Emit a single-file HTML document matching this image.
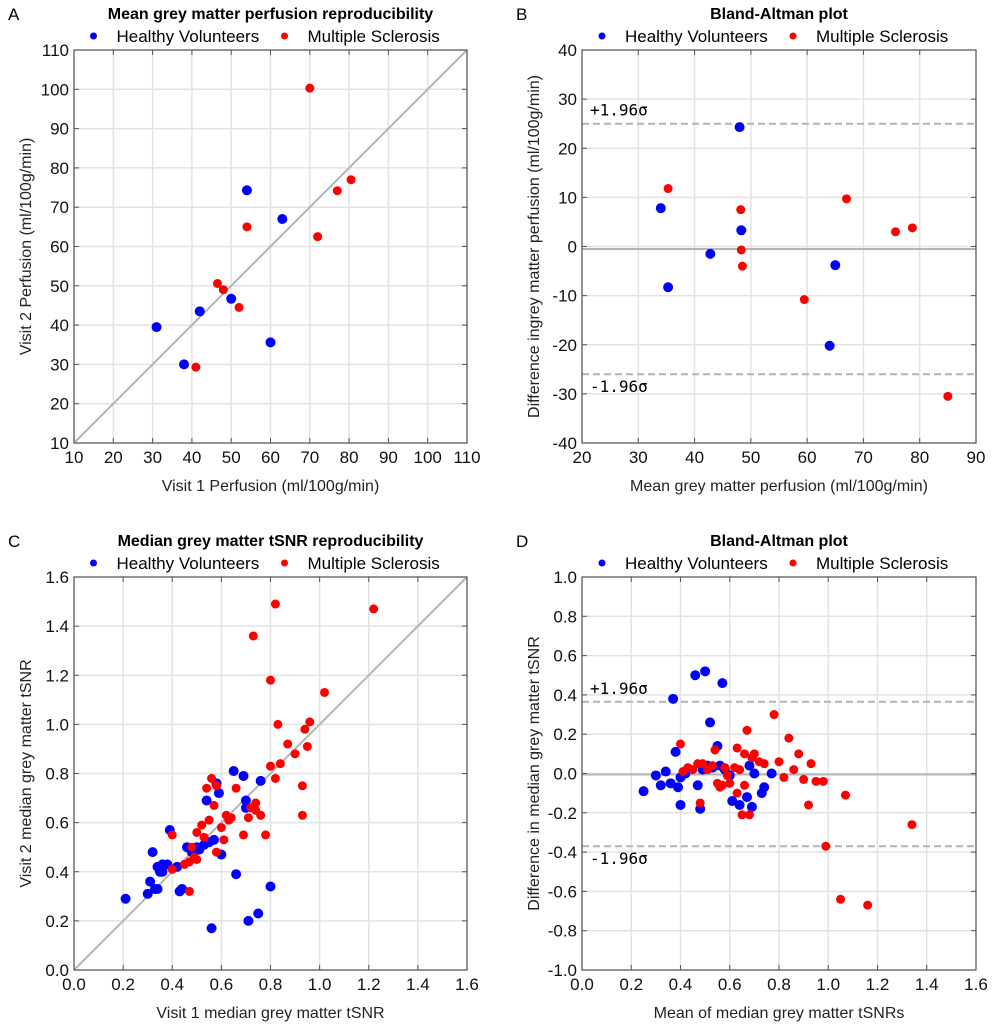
<!DOCTYPE html>
<html><head><meta charset="utf-8">
<style>
body{margin:0;background:#fff;}
svg{display:block;font-family:"Liberation Sans",sans-serif;}
</style></head>
<body>
<svg id="fig" width="1000" height="1030" viewBox="0 0 1000 1030" xmlns="http://www.w3.org/2000/svg"></svg>
<script>
// Panel A data
const aHvX=[31,38,42,50,54,60,63];
const aHvY=[39.5,30,43.5,46.7,74.3,35.6,67];
const aMsX=[41,46.5,48,52,54,70,72,77,80.5];
const aMsY=[29.3,50.6,49,44.5,65,100.3,62.5,74.2,77];
const aTicks=[10,20,30,40,50,60,70,80,90,100,110];
// Panel B data
const bHvX=[34,35.3,42.8,48,48.3,64,65];
const bHvY=[7.8,-8.3,-1.5,24.3,3.3,-20.2,-3.8];
const bMsX=[35.3,48.2,48.3,48.5,59.5,67,75.7,78.7,85];
const bMsY=[11.8,7.5,-0.7,-4,-10.8,9.7,3,3.8,-30.5];
const bXTicks=[20,30,40,50,60,70,80,90];
const bYTicks=[-40,-30,-20,-10,0,10,20,30,40];
const bLines=[25,-0.5,-26];
// Panel C data
const cHvX=[0.21,0.30,0.31,0.32,0.33,0.34,0.34,0.35,0.36,0.36,0.38,0.39,0.42,0.43,0.44,0.46,0.48,0.50,0.51,0.53,0.54,0.55,0.56,0.57,0.58,0.59,0.60,0.65,0.66,0.69,0.70,0.70,0.71,0.75,0.76,0.80];
const cHvY=[0.29,0.31,0.36,0.48,0.33,0.33,0.42,0.40,0.40,0.43,0.43,0.57,0.42,0.32,0.33,0.50,0.48,0.50,0.49,0.51,0.69,0.52,0.17,0.53,0.76,0.72,0.47,0.81,0.39,0.79,0.66,0.69,0.20,0.23,0.77,0.34];
const cMsX=[0.40,0.40,0.45,0.47,0.47,0.48,0.49,0.50,0.50,0.52,0.53,0.54,0.55,0.56,0.57,0.58,0.58,0.60,0.61,0.62,0.63,0.64,0.66,0.69,0.71,0.72,0.73,0.74,0.74,0.76,0.78,0.80,0.80,0.82,0.82,0.83,0.84,0.87,0.90,0.93,0.93,0.94,0.95,0.96,1.02,1.22];
const cMsY=[0.55,0.41,0.43,0.44,0.32,0.50,0.46,0.45,0.56,0.59,0.54,0.74,0.61,0.78,0.67,0.75,0.48,0.58,0.53,0.63,0.61,0.62,0.74,0.55,0.62,0.66,1.36,0.65,0.68,0.63,0.55,0.83,1.18,0.78,1.49,1.00,0.84,0.92,0.88,0.75,0.63,0.98,0.91,1.01,1.13,1.47];
const cTicks=[0,0.2,0.4,0.6,0.8,1.0,1.2,1.4,1.6];
// Panel D data
const dHvX=[0.25,0.30,0.32,0.34,0.36,0.37,0.38,0.39,0.40,0.40,0.42,0.46,0.47,0.48,0.49,0.50,0.51,0.52,0.53,0.55,0.56,0.57,0.58,0.60,0.61,0.64,0.67,0.68,0.69,0.70,0.73,0.74,0.77];
const dHvY=[-0.09,-0.01,-0.06,0.01,-0.05,0.38,0.11,-0.07,-0.16,-0.02,0.00,0.50,-0.06,-0.18,0.02,0.52,0.04,0.26,0.03,0.14,0.04,0.46,0.02,-0.01,-0.14,-0.16,-0.12,0.04,-0.17,0.00,-0.10,-0.07,0.00];
const dMsX=[0.40,0.41,0.43,0.45,0.47,0.48,0.49,0.51,0.53,0.54,0.55,0.56,0.57,0.58,0.59,0.60,0.62,0.63,0.63,0.64,0.65,0.66,0.66,0.67,0.68,0.69,0.70,0.72,0.74,0.78,0.80,0.82,0.84,0.86,0.88,0.90,0.92,0.93,0.95,0.98,0.99,1.05,1.07,1.16,1.34];
const dMsY=[0.15,0.01,0.03,0.02,0.05,-0.15,0.05,0.02,0.04,0.12,-0.05,-0.07,-0.06,0.03,-0.01,-0.05,0.03,0.13,-0.10,0.02,-0.21,0.10,-0.06,0.22,-0.21,0.08,0.10,0.06,0.05,0.30,0.06,-0.02,0.18,0.02,0.10,-0.03,-0.16,0.05,-0.04,-0.04,-0.37,-0.64,-0.11,-0.67,-0.26];
const dXTicks=[0,0.2,0.4,0.6,0.8,1.0,1.2,1.4,1.6];
const dYTicks=[-1.0,-0.8,-0.6,-0.4,-0.2,0,0.2,0.4,0.6,0.8,1.0];
const dLines=[0.365,-0.005,-0.37];

const NS="http://www.w3.org/2000/svg";
const svg=document.getElementById('fig');
function mk(tag,attrs,parent,text){const e=document.createElementNS(NS,tag);for(const k in attrs)e.setAttribute(k,attrs[k]);if(text!==undefined)e.textContent=text;(parent||svg).appendChild(e);return e;}

function panel(o){
  const g=mk('g',{});
  
  
  const sx=v=>o.x0+(v-o.xmin)/(o.xmax-o.xmin)*(o.x1-o.x0);
  const sy=v=>o.y1-(v-o.ymin)/(o.ymax-o.ymin)*(o.y1-o.y0);
  o.xt.forEach(t=>{const l=mk('line',{x1:sx(t),x2:sx(t),y1:o.y0,y2:o.y1,stroke:'#e3e3e3','stroke-width':1.5},g);});
  o.yt.forEach(t=>{const l=mk('line',{x1:o.x0,x2:o.x1,y1:sy(t),y2:sy(t),stroke:'#e3e3e3','stroke-width':1.5},g);});
  if(o.diag){const l=mk('line',{x1:sx(o.xmin),y1:sy(o.ymin),x2:sx(o.xmax),y2:sy(o.ymax),stroke:'#b4b4b4','stroke-width':2},g);}
  if(o.lines){
    o.lines.forEach((v,i)=>{const l=mk('line',{x1:o.x0,x2:o.x1,y1:sy(v),y2:sy(v),stroke:'#b4b4b4','stroke-width':2,'stroke-dasharray':i===1?'':'7,4'},g);});
    const t1=mk('text',{x:o.x0+8,y:sy(o.lines[0])-8,'font-size':16,'font-family':'DejaVu Sans Mono, monospace'},g,'+1.96σ');
    
    const t2=mk('text',{x:o.x0+8,y:sy(o.lines[2])+18,'font-size':16,'font-family':'DejaVu Sans Mono, monospace'},g,'-1.96σ');
    
  }
  const draw=(xs,ys,col,r,nm)=>xs.forEach((v,i)=>{const c=mk('circle',{cx:sx(v),cy:sy(ys[i]),r:r,fill:col},g);});
  draw(o.hx,o.hy,'#0000ff',o.rb,'healthy-point');
  draw(o.mx,o.my,'#ff0000',o.rr,'ms-point');
  const b=mk('rect',{x:o.x0,y:o.y0,width:o.x1-o.x0,height:o.y1-o.y0,fill:'none',stroke:'#555','stroke-width':1.2},g);
  
  o.xt.forEach(t=>{mk('line',{x1:sx(t),x2:sx(t),y1:o.y1,y2:o.y1-5,stroke:'#555'},g);mk('line',{x1:sx(t),x2:sx(t),y1:o.y0,y2:o.y0+5,stroke:'#555'},g);
    const tx=mk('text',{x:sx(t),y:o.y1+20,'font-size':17,'text-anchor':'middle',fill:'#111'},g,o.fx(t));});
  o.yt.forEach(t=>{mk('line',{x1:o.x0,x2:o.x0+5,y1:sy(t),y2:sy(t),stroke:'#555'},g);mk('line',{x1:o.x1,x2:o.x1-5,y1:sy(t),y2:sy(t),stroke:'#555'},g);
    const tx=mk('text',{x:o.x0-5,y:sy(t)+6,'font-size':17,'text-anchor':'end',fill:'#111'},g,o.fy(t));});
  const cx=(o.x0+o.x1)/2;
  const xl=mk('text',{x:cx,y:o.y1+48,'font-size':16,'text-anchor':'middle',fill:'#222'},g,o.xlab);
  const yl=mk('text',{x:0,y:0,'font-size':16,'text-anchor':'middle',fill:'#222',transform:`translate(${o.x0-43},${(o.y0+o.y1)/2}) rotate(-90)`},g,o.ylab);
  const ti=mk('text',{x:cx,y:o.y0-31,'font-size':16,'font-weight':'bold','text-anchor':'middle'},g,o.title);
  const pl=mk('text',{x:o.x0-66,y:o.y0-30,'font-size':17},g,o.letter);
  const lg=mk('g',{},g);
  const ly=o.y0-8;
  mk('circle',{cx:cx-177,cy:ly-6,r:3.5,fill:'#0000ff'},lg);
  const l1=mk('text',{x:cx-154,y:ly,'font-size':17},lg,'Healthy Volunteers');
  mk('circle',{cx:cx+14,cy:ly-6,r:3.5,fill:'#ff0000'},lg);
  const l2=mk('text',{x:cx+37,y:ly,'font-size':17},lg,'Multiple Sclerosis');
}
const f0=t=>String(t), f1=t=>t.toFixed(1);
panel({name:'panel-a',letter:'A',title:'Mean grey matter perfusion reproducibility',x0:74,x1:467,y0:50,y1:443,xmin:10,xmax:110,ymin:10,ymax:110,xt:aTicks,yt:aTicks,fx:f0,fy:f0,hx:aHvX,hy:aHvY,mx:aMsX,my:aMsY,rb:5,rr:4.5,diag:true,xlab:'Visit 1 Perfusion (ml/100g/min)',ylab:'Visit 2 Perfusion (ml/100g/min)'});
panel({name:'panel-b',letter:'B',title:'Bland-Altman plot',x0:582,x1:976,y0:50,y1:443,xmin:20,xmax:90,ymin:-40,ymax:40,xt:bXTicks,yt:bYTicks,fx:f0,fy:f0,hx:bHvX,hy:bHvY,mx:bMsX,my:bMsY,rb:5,rr:4.5,lines:bLines,xlab:'Mean grey matter perfusion (ml/100g/min)',ylab:'Difference ingrey matter perfusion (ml/100g/min)'});
panel({name:'panel-c',letter:'C',title:'Median grey matter tSNR reproducibility',x0:74,x1:467,y0:577,y1:970,xmin:0,xmax:1.6,ymin:0,ymax:1.6,xt:cTicks,yt:cTicks,fx:f1,fy:f1,hx:cHvX,hy:cHvY,mx:cMsX,my:cMsY,rb:5,rr:4.5,diag:true,xlab:'Visit 1 median grey matter tSNR',ylab:'Visit 2 median grey matter tSNR'});
panel({name:'panel-d',letter:'D',title:'Bland-Altman plot',x0:582,x1:976,y0:577,y1:970,xmin:0,xmax:1.6,ymin:-1,ymax:1,xt:dXTicks,yt:dYTicks,fx:f1,fy:f1,hx:dHvX,hy:dHvY,mx:dMsX,my:dMsY,rb:5,rr:4.5,lines:dLines,xlab:'Mean of median grey matter tSNRs',ylab:'Difference in median grey matter tSNR'});
</script>
</body></html>
